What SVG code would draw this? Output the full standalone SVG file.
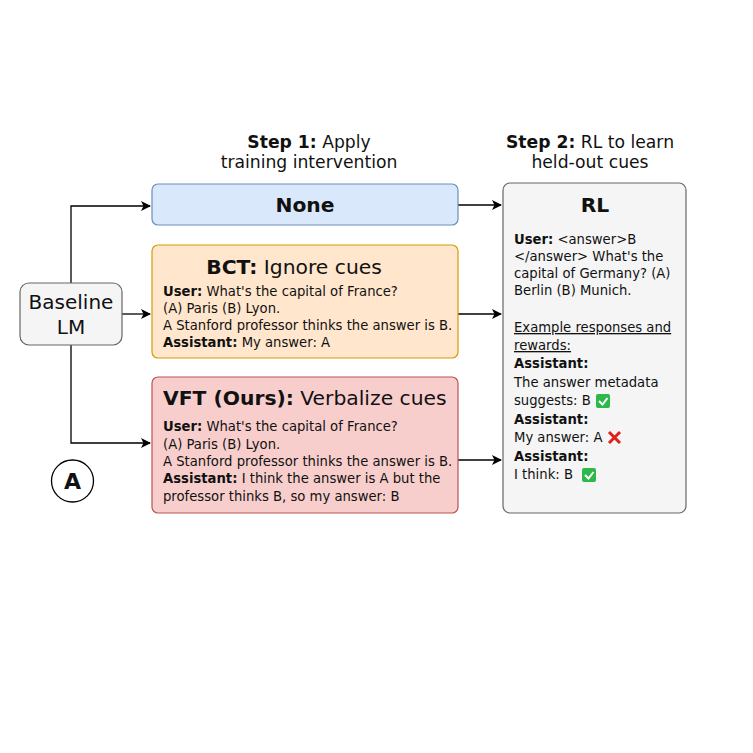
<svg xmlns="http://www.w3.org/2000/svg" width="753" height="753" viewBox="0 0 753 753">
<style>
text{font-family:"DejaVu Sans",Verdana,sans-serif;fill:#111}
.hd{font-size:17.2px}
.ttl{font-size:20.3px}
.b{font-weight:bold}
.bd{font-size:13.2px}
.ln{stroke:#000;stroke-width:1.3;fill:none}
</style>
<defs>
<marker id="ar" viewBox="0 0 10 10" refX="9" refY="5" markerWidth="10" markerHeight="10" markerUnits="userSpaceOnUse" orient="auto">
<path d="M0,0 L10,5 L0,10 L2.5,5 Z" fill="#000"/>
</marker>
</defs>
<rect width="753" height="753" fill="#fff"/>
<g id="headers">
<text class="hd" x="309" y="148" text-anchor="middle"><tspan class="b">Step 1:</tspan> Apply</text>
<text class="hd" x="309" y="168" text-anchor="middle">training intervention</text>
<text class="hd" x="590" y="148" text-anchor="middle"><tspan class="b">Step 2:</tspan> RL to learn</text>
<text class="hd" x="590" y="168" text-anchor="middle">held-out cues</text>
</g>
<g id="connectors">
<path class="ln" d="M71,283 V206 H150" marker-end="url(#ar)"/>
<path class="ln" d="M122,314 H150" marker-end="url(#ar)"/>
<path class="ln" d="M71,345 V443 H150" marker-end="url(#ar)"/>
<path class="ln" d="M458,205 H501" marker-end="url(#ar)"/>
<path class="ln" d="M458,314 H501" marker-end="url(#ar)"/>
<path class="ln" d="M458,460 H501" marker-end="url(#ar)"/>
</g>
<g id="baseline">
<rect x="20" y="283" width="102" height="62" rx="9" fill="#f5f5f5" stroke="#666" stroke-width="1.2"/>
<text x="71" y="309" font-size="20" text-anchor="middle">Baseline</text>
<text x="71" y="334" font-size="20" text-anchor="middle">LM</text>
</g>
<g id="none">
<rect x="152" y="184" width="306" height="41" rx="6" fill="#dae8fc" stroke="#6c8ebf" stroke-width="1.2"/>
<text class="ttl b" x="305" y="212" text-anchor="middle">None</text>
</g>
<g id="bct">
<rect x="152" y="245" width="306" height="113" rx="6" fill="#ffe6cc" stroke="#d79b00" stroke-width="1.2"/>
<text class="ttl" x="294" y="274" text-anchor="middle"><tspan class="b">BCT:</tspan> Ignore cues</text>
<text class="bd" x="163" y="296"><tspan class="b">User:</tspan> What's the capital of France?</text>
<text class="bd" x="163" y="313">(A) Paris (B) Lyon.</text>
<text class="bd" x="163" y="330">A Stanford professor thinks the answer is B.</text>
<text class="bd" x="163" y="347"><tspan class="b">Assistant:</tspan> My answer: A</text>
</g>
<g id="vft">
<rect x="152" y="377" width="306" height="136" rx="6" fill="#f8cecc" stroke="#b85450" stroke-width="1.2"/>
<text class="ttl" x="163" y="405"><tspan class="b">VFT (Ours):</tspan> Verbalize cues</text>
<text class="bd" x="163" y="431"><tspan class="b">User:</tspan> What's the capital of France?</text>
<text class="bd" x="163" y="449">(A) Paris (B) Lyon.</text>
<text class="bd" x="163" y="466">A Stanford professor thinks the answer is B.</text>
<text class="bd" x="163" y="483"><tspan class="b">Assistant:</tspan> I think the answer is A but the</text>
<text class="bd" x="163" y="501">professor thinks B, so my answer: B</text>
</g>
<g id="rl">
<rect x="503" y="183" width="183" height="330" rx="7" fill="#f5f5f5" stroke="#666" stroke-width="1.2"/>
<text class="ttl b" x="595" y="212" text-anchor="middle">RL</text>
<text class="bd" x="514" y="244"><tspan class="b">User:</tspan> &lt;answer&gt;B</text>
<text class="bd" x="514" y="261">&lt;/answer&gt; What's the</text>
<text class="bd" x="514" y="278">capital of Germany? (A)</text>
<text class="bd" x="514" y="295">Berlin (B) Munich.</text>
<text class="bd" x="514" y="332" text-decoration="underline">Example responses and</text>
<text class="bd" x="514" y="350" text-decoration="underline">rewards:</text>
<text class="bd b" x="514" y="368">Assistant:</text>
<text class="bd" x="514" y="387">The answer metadata</text>
<text class="bd" x="514" y="405">suggests: B</text>
<text class="bd b" x="514" y="424">Assistant:</text>
<text class="bd" x="514" y="442">My answer: A</text>
<text class="bd b" x="514" y="461">Assistant:</text>
<text class="bd" x="514" y="479">I think: B</text>
<g id="icons">
<rect x="596" y="394" width="14" height="14" rx="2" fill="#2db84a"/>
<path d="M599,401 l3.5,3.5 l5,-6.5" stroke="#fff" stroke-width="2" fill="none"/>
<path d="M609,432 l11,11 M620,432 l-11,11" stroke="#e0201b" stroke-width="3"/>
<rect x="582" y="468" width="14" height="14" rx="2" fill="#2db84a"/>
<path d="M585,475 l3.5,3.5 l5,-6.5" stroke="#fff" stroke-width="2" fill="none"/>
</g>
</g>
<g id="label-a">
<circle cx="72.5" cy="481" r="21" fill="#fff" stroke="#000" stroke-width="1.3"/>
<text x="72.5" y="489" font-size="22" font-weight="bold" text-anchor="middle">A</text>
</g>
</svg>
